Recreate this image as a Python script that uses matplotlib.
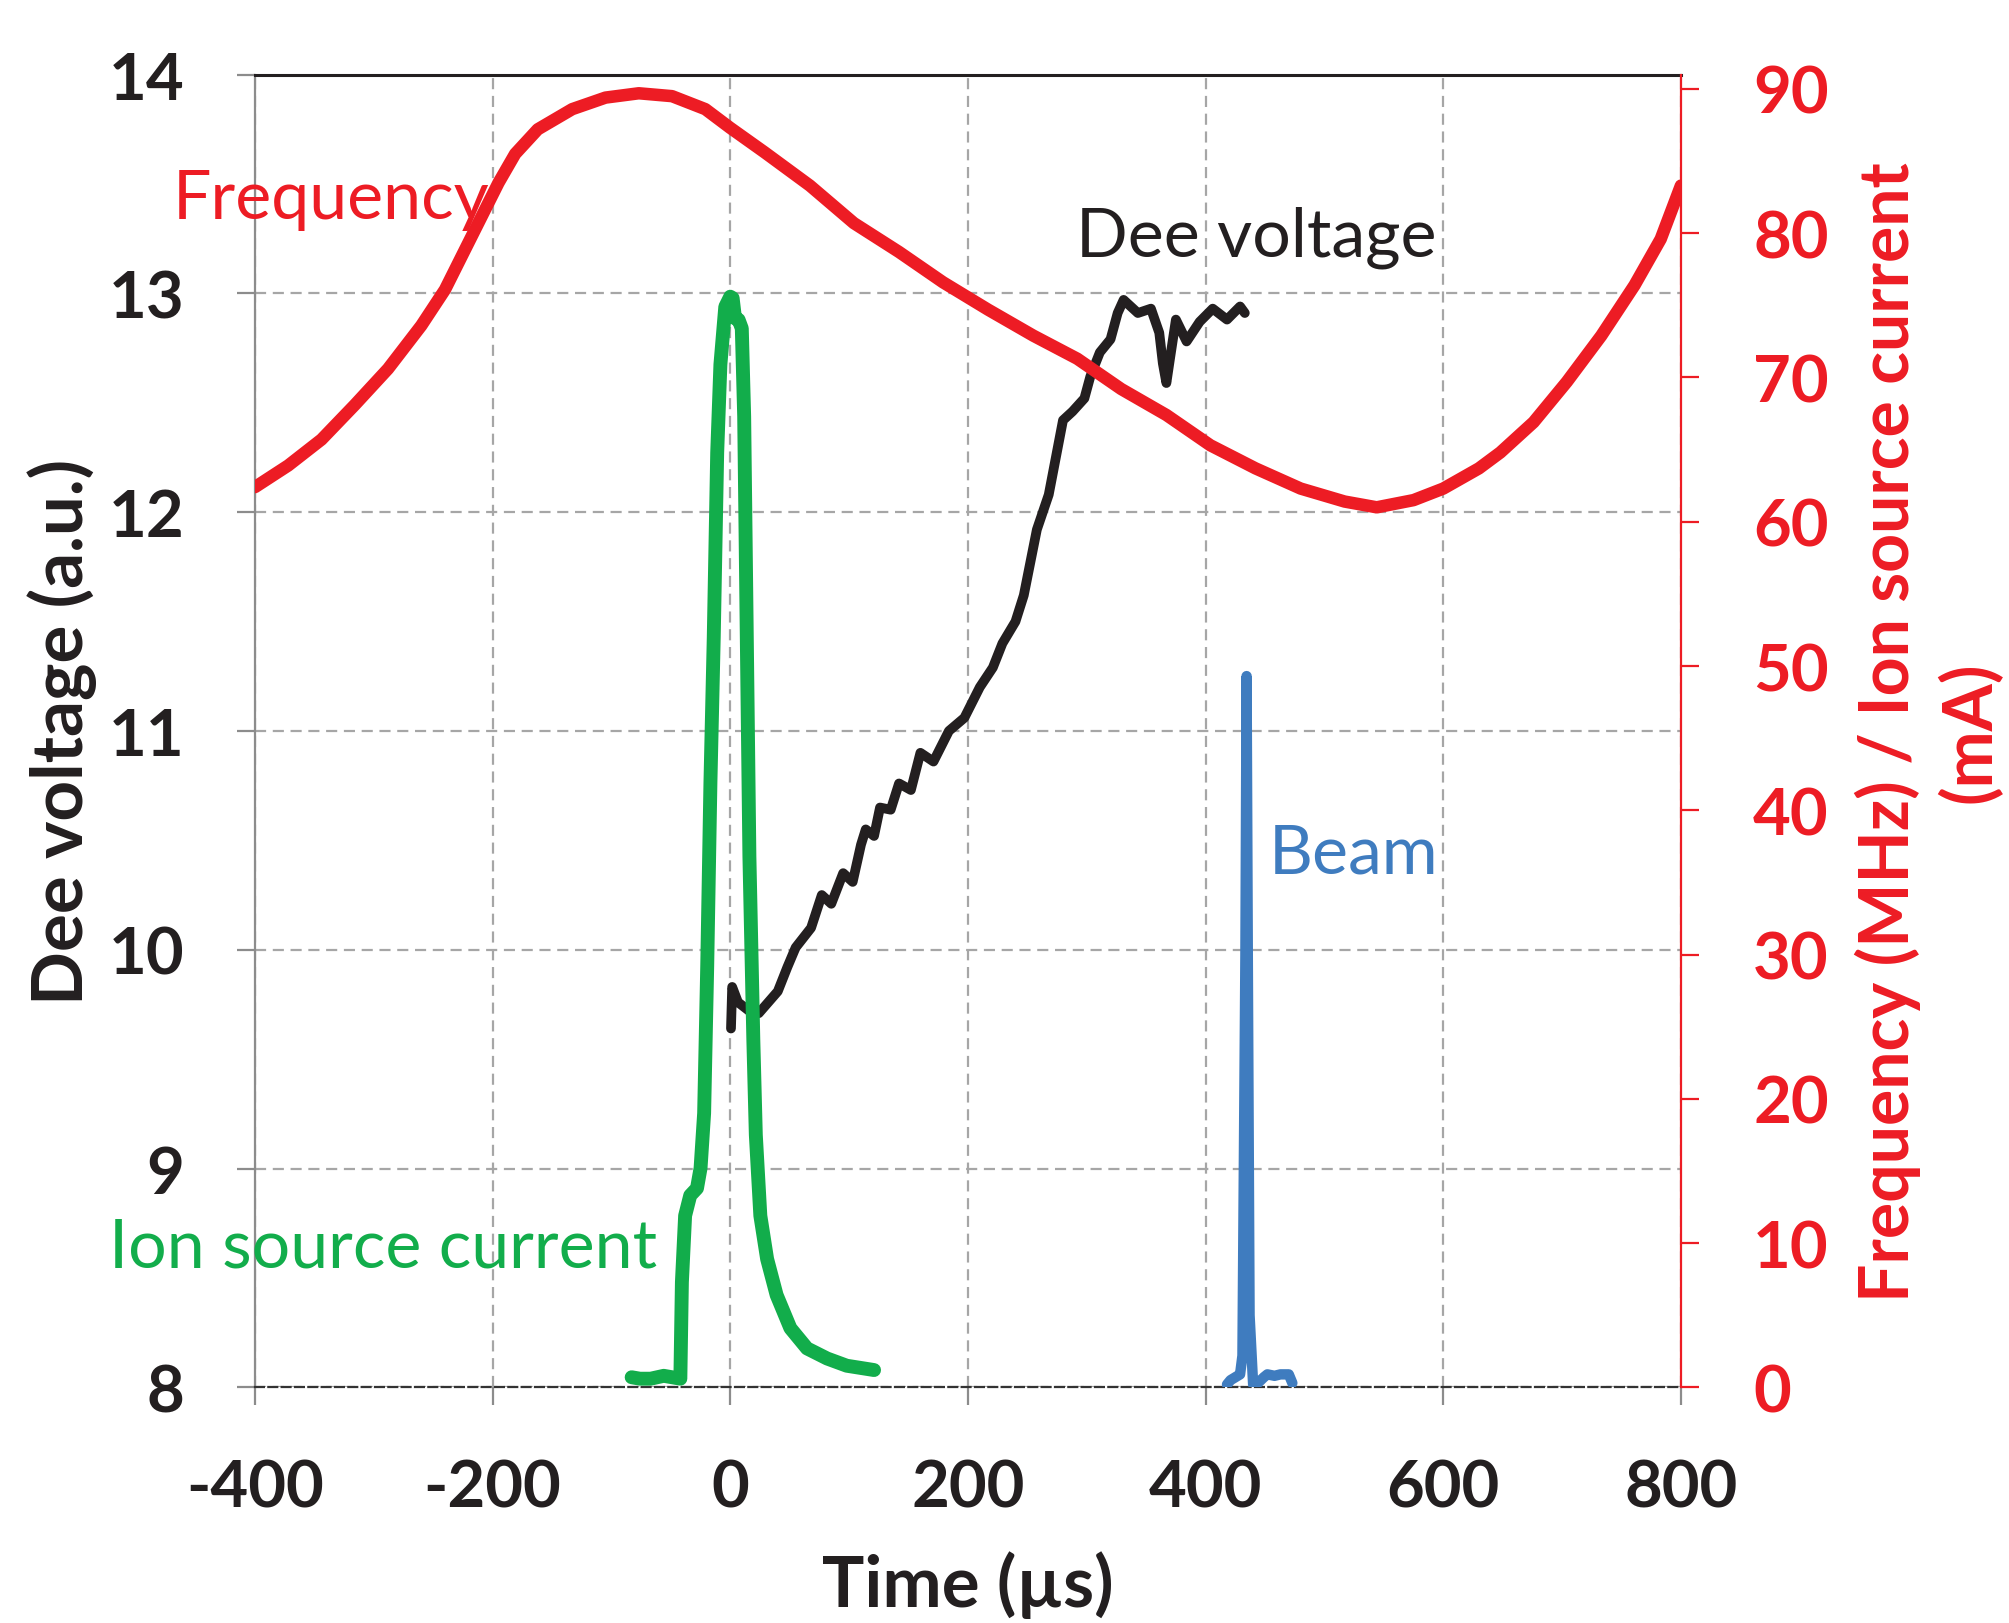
import numpy as np
import matplotlib
matplotlib.use("Agg")
import matplotlib.pyplot as plt

plt.rcParams['font.family'] = ['Lato', 'DejaVu Sans']
plt.rcParams['axes.unicode_minus'] = False

# frequency (MHz), right axis
freq_t = [-400, -372, -344, -316, -288, -260, -240, -223, -209, -195, -181, -162, -133,
          -105, -77, -49, -21, 0, 29, 67, 104, 142, 179, 217, 255, 292, 329, 367, 404,
          442, 480, 517, 544, 575, 600, 630, 648, 676, 704, 733, 761, 783, 800]
freq_v = [62.4, 63.9, 65.7, 68.1, 70.6, 73.6, 76.1, 78.9, 81.2, 83.5, 85.5, 87.2, 88.6,
          89.4, 89.7, 89.5, 88.6, 87.3, 85.6, 83.3, 80.7, 78.7, 76.6, 74.7, 72.9, 71.3,
          69.2, 67.4, 65.3, 63.7, 62.3, 61.4, 61.0, 61.5, 62.3, 63.7, 64.8, 66.9, 69.7,
          72.9, 76.4, 79.6, 83.3]

# dee voltage (a.u.), left axis
dee_t = [0.6, 1.6, 6.5, 16, 24, 32, 40, 48, 55, 68, 77, 85, 95, 103, 110, 114, 121, 126,
         135, 142, 152, 160, 171, 184, 197, 210, 221, 229, 240, 247, 258, 268, 280, 288,
         298, 303, 311, 320, 326, 331, 343, 354, 361, 364, 367, 370, 375, 384, 395, 406,
         418, 429, 433]
dee_v = [9.64, 9.83, 9.76, 9.72, 9.71, 9.76, 9.81, 9.92, 10.01, 10.10, 10.25, 10.21,
         10.35, 10.31, 10.48, 10.55, 10.52, 10.65, 10.64, 10.76, 10.73, 10.90, 10.86,
         11.00, 11.06, 11.20, 11.29, 11.40, 11.50, 11.62, 11.92, 12.08, 12.42, 12.46,
         12.52, 12.62, 12.73, 12.79, 12.91, 12.97, 12.91, 12.93, 12.82, 12.68, 12.59,
         12.70, 12.88, 12.78, 12.87, 12.93, 12.88, 12.94, 12.91]

# ion source current (mA), right axis
ion_t = [-83, -76, -67, -56, -42, -40.7, -38, -33.7, -28, -25, -22, -19.4, -16.7, -13.9,
         -11, -8.3, -4.2, 0, 2, 4, 7, 9.7, 11.7, 13.9, 16.1, 19.4, 21.5, 25.3, 31, 39,
         50.6, 64.6, 81.5, 98, 121]
ion_v = [0.7, 0.6, 0.6, 0.8, 0.6, 7.3, 11.9, 13.3, 13.8, 15.2, 19.0, 29.2, 41.9, 52.0,
         64.8, 70.9, 74.9, 75.6, 75.5, 74.1, 74.0, 73.4, 67.3, 52.0, 36.8, 24.1, 17.5,
         11.9, 8.9, 6.4, 4.1, 2.7, 2.0, 1.5, 1.2]

# beam (a.u. on right axis)
beam_t = [418, 421, 425, 429, 431, 433.5, 434.5, 435.5, 437, 440, 444, 449, 452, 458,
          463, 470, 473]
beam_v = [0.2, 0.5, 0.7, 0.9, 2.2, 30.0, 49.3, 30.0, 5.0, 0.2, 0.3, 0.7, 0.9, 0.8,
          0.9, 0.9, 0.3]

RED = '#ED1C24'
GREEN = '#12AD4B'
BLUE = '#3F7CBF'
BLACK = '#231F20'

fig = plt.figure(figsize=(20.09, 16.24), dpi=100)
ax = fig.add_axes([0.1269, 0.1451, 0.7098, 0.8084])
ax2 = ax.twinx()

ax.plot(dee_t, dee_v, color=BLACK, lw=7, solid_capstyle='round', solid_joinstyle='round')
ax2.plot(freq_t, freq_v, color=RED, lw=9, solid_capstyle='round', solid_joinstyle='round')
ax2.plot(ion_t, ion_v, color=GREEN, lw=10, solid_capstyle='round', solid_joinstyle='round')
ax2.plot(beam_t, beam_v, color=BLUE, lw=7.5, solid_capstyle='round', solid_joinstyle='round')

ax.set_xlim(-400, 800)
ax.set_ylim(8, 14)
ax2.set_ylim(0, 91)
ax.set_xticks(range(-400, 801, 200))
ax.set_yticks(range(8, 15))
ax2.set_yticks(range(0, 91, 10))

ax.grid(True, color='#a6a6a6', linestyle=(0, (5, 3)), linewidth=1.6)
ax.set_axisbelow(True)

for s in ['left', 'top', 'bottom']:
    ax2.spines[s].set_visible(False)
ax.spines['right'].set_visible(False)
ax.spines['left'].set_color('#8c8c8c')
ax.spines['left'].set_linewidth(1.6)
ax.spines['top'].set_color(BLACK)
ax.spines['top'].set_linewidth(2.2)
ax.spines['bottom'].set_color('#333333')
ax.spines['bottom'].set_linestyle((0, (4, 2)))
ax.spines['bottom'].set_linewidth(1.6)
ax2.spines['right'].set_color(RED)
ax2.spines['right'].set_linewidth(1.6)

ax.tick_params(axis='both', direction='out', length=13, width=1.6, color='#8c8c8c',
               labelsize=47, labelcolor=BLACK)
ax.tick_params(axis='y', pad=38)
ax.tick_params(axis='x', pad=38)
ax2.tick_params(axis='y', direction='out', length=13, width=1.6, color=RED,
                labelsize=47, labelcolor=RED, pad=39)
for lab in ax.get_xticklabels() + ax.get_yticklabels() + ax2.get_yticklabels():
    lab.set_fontweight('bold')

fig.text(0.4818, 0.0237, 'Time (µs)', ha='center', va='center', fontsize=51,
         fontweight='bold', color=BLACK)
fig.text(0.031, 0.549, 'Dee voltage (a.u.)', ha='center', va='center', rotation=90,
         fontsize=51, fontweight='bold', color=BLACK)
fig.text(0.96, 0.549, 'Frequency (MHz) / Ion source current\n(mA)', ha='center',
         va='center', rotation=90, fontsize=49, fontweight='bold', color=RED,
         linespacing=1.3, multialignment='center')

ax.text(-469, 13.43, 'Frequency', color=RED, fontsize=49, va='center', ha='left', clip_on=False)
ax.text(291, 13.26, 'Dee voltage', color=BLACK, fontsize=49, va='center', ha='left')
ax.text(-523, 8.64, 'Ion source current', color=GREEN, fontsize=49, va='center', ha='left',
        clip_on=False)
ax.text(453, 10.44, 'Beam', color=BLUE, fontsize=49, va='center', ha='left')

fig.savefig('out.png', dpi=100)
